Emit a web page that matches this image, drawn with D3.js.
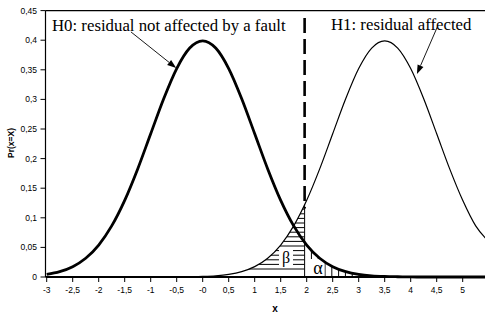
<!DOCTYPE html>
<html><head><meta charset="utf-8">
<script src="https://cdn.jsdelivr.net/npm/d3@7"></script>
<style>body{margin:0;background:#fff}svg{display:block}</style>
</head><body>
<svg id="c" width="485" height="315"></svg>
<script>
const xs = [-3,-2.75,-2.5,-2.25,-2,-1.75,-1.5,-1.25,-1,-0.75,-0.5,-0.25,0,0.25,0.5,0.75,1,1.25,1.5,1.75,2,2.25,2.5,2.75,3,3.25,3.5,3.75,4,4.25,4.5,4.75,5,5.25,5.5];
const h0 = [0.0044,0.0091,0.0175,0.0317,0.0540,0.0863,0.1295,0.1826,0.2420,0.3011,0.3521,0.3867,0.3989,0.3867,0.3521,0.3011,0.2420,0.1826,0.1295,0.0863,0.0540,0.0317,0.0175,0.0091,0.0044,0.0020,0.0009,0.0004,0.0001,0,0,0,0,0,0];
const h1 = [0,0,0,0,0,0,0,0,0,0.0001,0.0001,0.0004,0.0009,0.0020,0.0044,0.0091,0.0175,0.0317,0.0540,0.0863,0.1295,0.1826,0.2420,0.3011,0.3521,0.3867,0.3989,0.3867,0.3521,0.3011,0.2420,0.1826,0.1295,0.0863,0.0600];
const threshold = 1.96;
const xTickValues = [-3,-2.5,-2,-1.5,-1,-0.5,0,0.5,1,1.5,2,2.5,3,3.5,4,4.5,5];
const xTickLabels = ["-3","-2,5","-2","-1,5","-1","-0,5","-0","0,5","1","1,5","2","2,5","3","3,5","4","4,5","5"];
const yTickValues = [0,0.05,0.1,0.15,0.2,0.25,0.3,0.35,0.4,0.45];
const yTickLabels = ["0","0,05","0,1","0,15","0,2","0,25","0,3","0,35","0,4","0,45"];
const h0Label = "H0: residual not affected by a fault";
const h1Label = "H1: residual affected";

const svg = d3.select("#c");
const X0 = 45.5, XR = 485;
const x = d3.scaleLinear().domain([-3,5]).range([46.7,462.7]);
const y = d3.scaleLinear().domain([0,0.45]).range([277,10.6]);
const pts0 = xs.map((v,i)=>[v,h0[i]]);
const pts1 = xs.map((v,i)=>[v,h1[i]]);
const interp = (pts, xv) => { for(let i=0;i<pts.length-1;i++){ if(xv>=pts[i][0]&&xv<=pts[i+1][0]){const t=(xv-pts[i][0])/(pts[i+1][0]-pts[i][0]);return pts[i][1]+t*(pts[i+1][1]-pts[i][1]);}} return 0;};
const xThr = x(threshold);
const h1Thr = interp(pts1, threshold);

const defs = svg.append("defs");
defs.append("clipPath").attr("id","plot").append("rect").attr("x",X0).attr("y",8).attr("width",XR-X0).attr("height",272);
const area = d3.area().x(d=>x(d[0])).y0(y(0)).y1(d=>y(d[1])).curve(d3.curveMonotoneX);
defs.append("clipPath").attr("id","a1").append("path").attr("d",area(pts1));
defs.append("clipPath").attr("id","a0").append("path").attr("d",area(pts0));
defs.append("clipPath").attr("id","left").append("rect").attr("x",X0).attr("y",0).attr("width",xThr-X0).attr("height",300);
defs.append("clipPath").attr("id","right").append("rect").attr("x",xThr).attr("y",0).attr("width",XR-xThr).attr("height",300);

// beta hatch
const gb = svg.append("g").attr("clip-path","url(#left)").append("g").attr("clip-path","url(#a1)");
for(let k=0;k<16;k++){ const yy=269-4.6*k; gb.append("line").attr("x1",X0).attr("x2",xThr).attr("y1",yy).attr("y2",yy).attr("stroke","#000").attr("stroke-width",1); }
// alpha hatch
const ga = svg.append("g").attr("clip-path","url(#right)").append("g").attr("clip-path","url(#a0)");
for(let k=1;k<30;k++){ const xx=xThr+6.8*k; ga.append("line").attr("x1",xx).attr("x2",xx).attr("y1",y(0)+1).attr("y2",10).attr("stroke","#000").attr("stroke-width",1); }

// labels with white boxes
svg.append("rect").attr("x",279).attr("y",249).attr("width",14).attr("height",18).attr("fill","#fff");
svg.append("text").attr("x",286).attr("y",263).attr("text-anchor","middle").attr("font-family","Liberation Serif").attr("font-size",16).text("β");
svg.append("rect").attr("x",307.5).attr("y",259).attr("width",17).attr("height",17).attr("fill","#fff");
svg.append("text").attr("x",318).attr("y",273.5).attr("text-anchor","middle").attr("font-family","Liberation Serif").attr("font-size",18).text("α");

// threshold lines
svg.append("line").attr("x1",xThr).attr("x2",xThr).attr("y1",y(h1Thr)).attr("y2",y(0)).attr("stroke","#000").attr("stroke-width",1);
svg.append("line").attr("x1",xThr).attr("x2",xThr).attr("y1",18).attr("y2",y(h1Thr)+4).attr("stroke","#000").attr("stroke-width",2.6).attr("stroke-dasharray","15,6");

// curves
const line = d3.line().x(d=>x(d[0])).y(d=>y(d[1])).curve(d3.curveMonotoneX);
const gc = svg.append("g").attr("clip-path","url(#plot)");
gc.append("path").attr("d",line(pts1)).attr("fill","none").attr("stroke","#000").attr("stroke-width",1.2);
gc.append("path").attr("d",line(pts0)).attr("fill","none").attr("stroke","#000").attr("stroke-width",2.8);

// axes
svg.append("line").attr("x1",X0).attr("x2",X0).attr("y1",y(0.45)).attr("y2",y(0)).attr("stroke","#000").attr("stroke-width",1.2);
svg.append("line").attr("x1",X0).attr("x2",XR).attr("y1",y(0.45)).attr("y2",y(0.45)).attr("stroke","#000").attr("stroke-width",1.2);
svg.append("line").attr("x1",X0).attr("x2",XR).attr("y1",y(0)).attr("y2",y(0)).attr("stroke","#000").attr("stroke-width",2);
yTickValues.forEach((v,i)=>{
  svg.append("line").attr("x1",X0-5).attr("x2",X0).attr("y1",y(v)).attr("y2",y(v)).attr("stroke","#000").attr("stroke-width",1);
  svg.append("text").attr("x",37).attr("y",y(v)).attr("dy","0.35em").attr("text-anchor","end").attr("font-family","Liberation Sans").attr("font-size",8.5).text(yTickLabels[i]);
});
xTickValues.forEach((v,i)=>{
  svg.append("line").attr("x1",x(v)).attr("x2",x(v)).attr("y1",y(0)).attr("y2",y(0)+5).attr("stroke","#000").attr("stroke-width",1);
  svg.append("text").attr("x",x(v)).attr("y",293).attr("text-anchor","middle").attr("font-family","Liberation Sans").attr("font-size",8.5).text(xTickLabels[i]);
});
svg.append("text").attr("transform","translate(14,143) rotate(-90)").attr("text-anchor","middle").attr("font-family","Liberation Sans").attr("font-weight","bold").attr("font-size",8.5).text("Pr(x=X)");
svg.append("text").attr("x",275).attr("y",312).attr("text-anchor","middle").attr("font-family","Liberation Sans").attr("font-weight","bold").attr("font-size",10).text("x");

// annotations
svg.append("text").attr("x",52).attr("y",30.5).attr("font-family","Liberation Serif").attr("font-size",16.8).text(h0Label);
svg.append("text").attr("x",331).attr("y",30).attr("font-family","Liberation Serif").attr("font-size",16.8).text(h1Label);
function arrow(xa,ya,xb,yb){
  const ax=x(xa), ay=y(ya), bx=x(xb), by=y(yb);
  const ang=Math.atan2(by-ay,bx-ax), L=9, W=3.2;
  const px=bx-L*Math.cos(ang), py=by-L*Math.sin(ang);
  svg.append("line").attr("x1",ax).attr("y1",ay).attr("x2",px).attr("y2",py).attr("stroke","#000").attr("stroke-width",0.9);
  const p=[[bx,by],[px-W*Math.sin(ang),py+W*Math.cos(ang)],[px+W*Math.sin(ang),py-W*Math.cos(ang)]];
  svg.append("path").attr("d","M"+p.map(q=>q.join(",")).join("L")+"Z").attr("fill","#000");
}
arrow(-1.38,0.414,-0.51,0.353);
arrow(4.51,0.422,4.12,0.343);
</script>
</body></html>
